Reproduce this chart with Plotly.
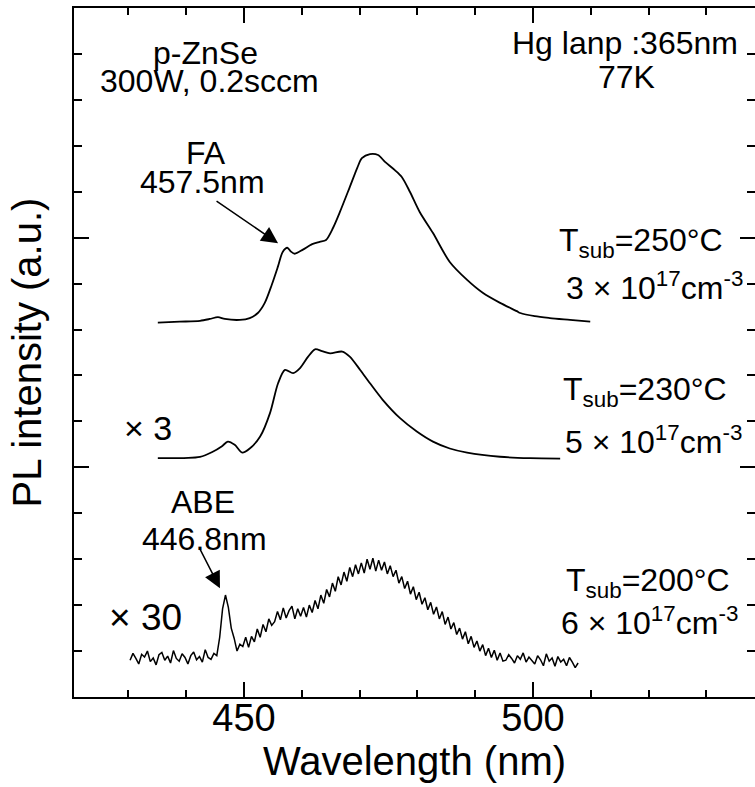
import numpy as np
import plotly.graph_objects as go

# PL spectra of p-ZnSe at 77 K for three substrate temperatures (offset, scaled)
# T_sub = 250 C
wl_250 = [435.1, 438.9, 442.4, 444.1, 445.5, 446.7, 449.3, 451.0, 452.4, 453.6,
          454.8, 455.9, 456.7, 457.5, 458.1, 458.8, 460.2, 461.8, 463.1, 464.2,
          465.4, 466.6, 468.3, 469.6, 470.4, 471.8, 473.2, 474.4, 476.1, 477.3,
          478.7, 480.4, 482.7, 485.6, 488.6, 491.3, 494.3, 497.2, 497.8, 500.3,
          502.9, 506.4, 509.9]
pl_250 = [8.15, 8.17, 8.19, 8.23, 8.27, 8.23, 8.21, 8.25, 8.36, 8.58,
          8.97, 9.38, 9.69, 9.78, 9.70, 9.65, 9.74, 9.86, 9.91, 9.95,
          10.21, 10.56, 11.10, 11.52, 11.73, 11.82, 11.80, 11.65, 11.47, 11.32,
          11.00, 10.56, 10.10, 9.47, 9.08, 8.80, 8.58, 8.40, 8.36, 8.29,
          8.25, 8.21, 8.17]

# T_sub = 230 C (x3)
wl_230 = [435.1, 442.4, 444.6, 446.2, 447.2, 448.4, 449.7, 451.0, 452.8, 454.5,
          455.9, 457.1, 458.5, 459.7, 461.1, 462.3, 463.5, 464.9, 467.0, 468.3,
          470.1, 471.8, 474.0, 477.0, 479.9, 482.7, 485.6, 488.6, 494.3, 499.5,
          504.7]
pl_230 = [5.20, 5.23, 5.34, 5.46, 5.56, 5.49, 5.32, 5.41, 5.67, 6.18,
          6.83, 7.12, 7.05, 7.16, 7.41, 7.57, 7.53, 7.48, 7.52, 7.41,
          7.12, 6.83, 6.47, 6.07, 5.78, 5.56, 5.41, 5.32, 5.23, 5.20,
          5.19]

# T_sub = 200 C (x30), sampled every 0.5 nm from 430.3 nm
pl_200 = [0.80, 0.95, 0.84, 0.72, 0.93, 0.87, 1.00, 0.77, 0.85, 0.70,
          0.92, 0.97, 0.80, 0.89, 0.74, 1.01, 0.84, 0.78, 0.94, 0.86,
          0.72, 0.90, 0.98, 0.81, 0.88, 0.76, 1.03, 0.86, 0.82, 0.95,
          0.90,
          1.30, 1.92, 2.22, 1.95, 1.50, 1.28, 1.00, 1.15, 1.10,
          1.30, 1.08, 1.32, 1.20, 1.48, 1.30, 1.58, 1.42, 1.70, 1.56,
          1.64, 1.86, 1.68, 1.94, 1.72, 1.88, 1.98, 1.70, 1.92, 1.76,
          1.95, 1.74, 2.00, 1.84, 2.10, 1.92, 2.22, 2.04, 2.34, 2.18,
          2.48, 2.30, 2.62, 2.44, 2.72, 2.52, 2.82, 2.62, 2.88, 2.68,
          2.92, 2.70, 3.00, 2.78, 3.02, 2.74, 2.98, 2.76, 2.94, 2.68,
          2.86, 2.62, 2.76, 2.48, 2.62, 2.36, 2.52, 2.24, 2.40, 2.12,
          2.28, 2.02, 2.16, 1.90, 2.06, 1.80, 1.96, 1.70, 1.86, 1.58,
          1.74, 1.48, 1.62, 1.36, 1.50, 1.26, 1.42, 1.16, 1.32, 1.08,
          1.22, 1.00, 1.14, 0.90, 1.06, 0.86, 1.02, 0.80, 0.96, 0.78,
          0.80, 0.92, 0.84, 0.74, 0.90, 0.82, 0.96, 0.76, 0.87, 0.80,
          0.72, 0.90, 0.81, 0.68, 0.94, 0.78, 0.85, 0.67, 0.88, 0.76,
          0.82, 0.68, 0.86, 0.76, 0.64, 0.74]
wl_200 = 430.3 + 0.5 * np.arange(len(pl_200))

FONT = "Liberation Sans, Arial, Helvetica, sans-serif"

fig = go.Figure()
fig.add_trace(go.Scatter(x=wl_250, y=pl_250, mode="lines", hoverinfo="skip",
                         line=dict(color="black", width=1.8, shape="spline", smoothing=0.8)))
fig.add_trace(go.Scatter(x=wl_230, y=pl_230, mode="lines", hoverinfo="skip",
                         line=dict(color="black", width=1.8, shape="spline", smoothing=0.8)))
fig.add_trace(go.Scatter(x=wl_200, y=pl_200, mode="lines", hoverinfo="skip",
                         line=dict(color="black", width=1.5)))
# empty trace so the right-hand tick axis is drawn
fig.add_trace(go.Scatter(x=[], y=[], yaxis="y2", mode="lines", hoverinfo="skip"))

def label(x, y, text, size=32):
    fig.add_annotation(x=x, y=y, text=text, showarrow=False,
                       xanchor="center", yanchor="middle",
                       font=dict(family=FONT, size=size, color="black"))

def arrow(x, y, ax, ay):
    fig.add_annotation(x=x, y=y, ax=ax, ay=ay, text="", showarrow=True,
                       arrowhead=2, arrowsize=2.2, arrowwidth=1.5,
                       arrowcolor="black")

label(443.3, 14.02, "p-ZnSe")
label(444.1, 13.41, "300W, 0.2sccm")
label(515.9, 14.24, "Hg lanp :365nm")
label(516.1, 13.50, "77K")

label(443.4, 11.84, "FA")
label(442.9, 11.21, "457.5nm")
arrow(455.9, 9.88, -63, -43)

label(518.7, 9.90, "T<sub>sub</sub>=250°C")
label(521.1, 8.95, "3 × 10<sup>17</sup>cm<sup>-3</sup>")
label(519.4, 6.66, "T<sub>sub</sub>=230°C")
label(520.9, 5.60, "5 × 10<sup>17</sup>cm<sup>-3</sup>")
label(433.4, 5.86, "× 3", size=34)

label(442.9, 4.25, "ABE")
label(443.1, 3.44, "446.8nm")
arrow(445.85, 2.37, -21, -41)

label(519.9, 2.50, "T<sub>sub</sub>=200°C")
label(520.1, 1.66, "6 × 10<sup>17</sup>cm<sup>-3</sup>")
label(432.9, 1.72, "× 30", size=37)

tick_common = dict(ticks="inside", tickcolor="black", tickwidth=1.5,
                   showgrid=False, zeroline=False)

fig.update_layout(
    width=755, height=787,
    margin=dict(l=74, r=0, t=8, b=90),
    plot_bgcolor="white", paper_bgcolor="white",
    showlegend=False,
    font=dict(family=FONT, color="black"),
    xaxis=dict(
        range=[420.6, 538.4], tickvals=[450, 500], ticklen=15,
        showline=True, linecolor="black", linewidth=2, mirror="ticks",
        tickfont=dict(size=38, family=FONT), ticklabelstandoff=-14,
        title=dict(text="Wavelength (nm)", font=dict(size=40, family=FONT), standoff=4),
        minor=dict(dtick=10, tick0=0, ticks="inside", ticklen=7,
                   tickwidth=1.5, tickcolor="black", showgrid=False),
        **tick_common,
    ),
    yaxis=dict(
        range=[0, 15], tick0=0, dtick=5, ticklen=15, showticklabels=False,
        showline=True, linecolor="black", linewidth=2, mirror=False,
        title=dict(text="PL intensity (a.u.)", font=dict(size=40, family=FONT), standoff=18),
        minor=dict(dtick=1, tick0=0, ticks="inside", ticklen=8,
                   tickwidth=1.5, tickcolor="black", showgrid=False),
        **tick_common,
    ),
    yaxis2=dict(
        overlaying="y", side="right", range=[0, 15], tick0=0, dtick=5,
        ticklen=15, showticklabels=False, showline=False,
        minor=dict(dtick=1, tick0=0, ticks="inside", ticklen=8,
                   tickwidth=1.5, tickcolor="black", showgrid=False),
        **tick_common,
    ),
)

fig.write_html("out.html")
